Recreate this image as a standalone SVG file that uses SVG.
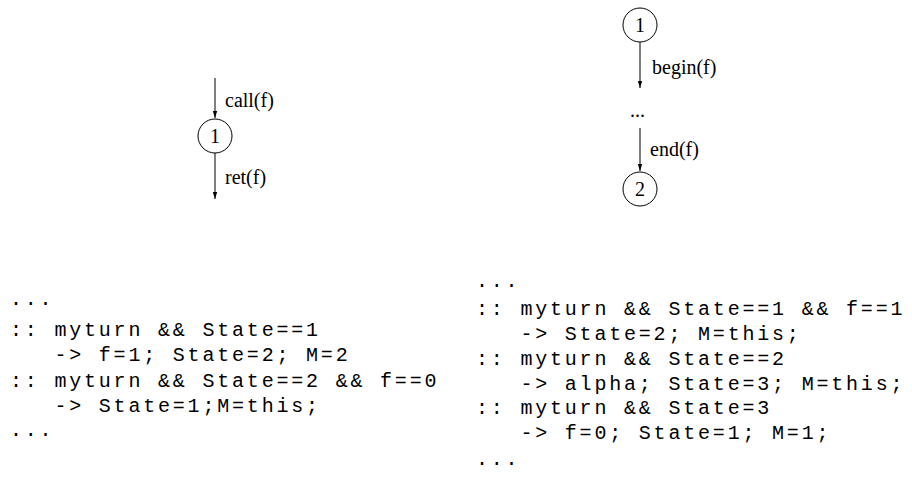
<svg xmlns="http://www.w3.org/2000/svg" width="912" height="493" viewBox="0 0 912 493">
<style>
.lbl{font-family:"Liberation Serif","Times New Roman",serif;font-size:20px;fill:#000}
.code{font-family:"Liberation Mono","Courier New",monospace;font-size:20px;letter-spacing:2.8px;fill:#000;white-space:pre}
.node circle{fill:#fff;stroke:#000;stroke-width:1}
.node text{font-family:"Liberation Serif","Times New Roman",serif;font-size:20px;text-anchor:middle;fill:#000}
.edge{stroke:#000;stroke-width:1;fill:none;marker-end:url(#arr)}
</style>
<defs>
<marker id="arr" markerWidth="8" markerHeight="6" refX="7" refY="3" orient="auto" markerUnits="userSpaceOnUse">
<path d="M0,0.8 L7,3 L0,5.2 Z" fill="#000"/>
</marker>
</defs>
<rect width="912" height="493" fill="#fff"/>
<g id="connectors">
<line class="edge" x1="215" y1="78" x2="215" y2="118"/>
<line class="edge" x1="215" y1="153" x2="215" y2="199"/>
<line class="edge" x1="640" y1="42" x2="640" y2="88"/>
<line class="edge" x1="640" y1="128" x2="640" y2="171"/>
</g>
<g id="edge-labels">
<text class="lbl" x="225" y="107">call(f)</text>
<text class="lbl" x="225" y="184">ret(f)</text>
<text class="lbl" x="652" y="74">begin(f)</text>
<text class="lbl" x="650" y="156">end(f)</text>
<text class="lbl" x="630" y="117">...</text>
</g>
<g id="node-call" class="node">
<circle cx="215" cy="136" r="17"/>
<text x="215" y="143">1</text>
</g>
<g id="node-r1" class="node">
<circle cx="640" cy="25" r="17"/>
<text x="640" y="32">1</text>
</g>
<g id="node-r2" class="node">
<circle cx="640" cy="189" r="17"/>
<text x="640" y="196">2</text>
</g>
<g id="code-left" class="code">
<text class="code" x="10" y="305" xml:space="preserve">...</text>
<text class="code" x="10" y="336" xml:space="preserve">:: myturn &amp;&amp; State==1</text>
<text class="code" x="10" y="361" xml:space="preserve">   -&gt; f=1; State=2; M=2</text>
<text class="code" x="10" y="387" xml:space="preserve">:: myturn &amp;&amp; State==2 &amp;&amp; f==0</text>
<text class="code" x="10" y="412" xml:space="preserve">   -&gt; State=1;M=this;</text>
<text class="code" x="10" y="436" xml:space="preserve">...</text>
</g>
<g id="code-right" class="code">
<text class="code" x="476" y="287" xml:space="preserve">...</text>
<text class="code" x="476" y="315" xml:space="preserve">:: myturn &amp;&amp; State==1 &amp;&amp; f==1</text>
<text class="code" x="476" y="340" xml:space="preserve">   -&gt; State=2; M=this;</text>
<text class="code" x="476" y="365" xml:space="preserve">:: myturn &amp;&amp; State==2</text>
<text class="code" x="476" y="390" xml:space="preserve">   -&gt; alpha; State=3; M=this;</text>
<text class="code" x="476" y="414" xml:space="preserve">:: myturn &amp;&amp; State=3</text>
<text class="code" x="476" y="439" xml:space="preserve">   -&gt; f=0; State=1; M=1;</text>
<text class="code" x="476" y="465" xml:space="preserve">...</text>
</g>
</svg>
